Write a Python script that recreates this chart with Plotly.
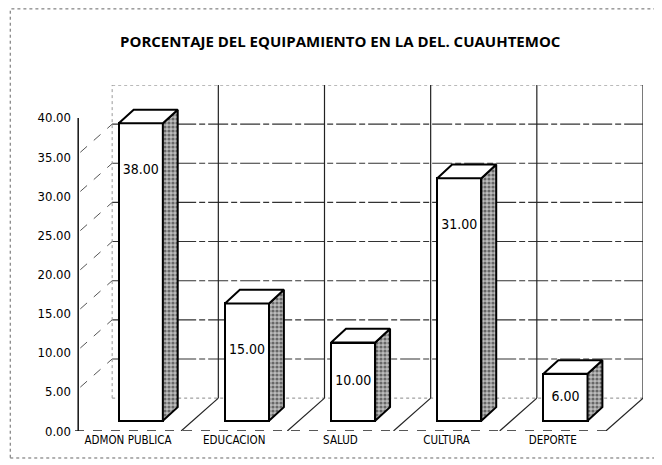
import plotly.graph_objects as go

# ---- data ----
categories = ["ADMON PUBLICA", "EDUCACION", "SALUD", "CULTURA", "DEPORTE"]
values = [38.00, 15.00, 10.00, 31.00, 6.00]
y_ticks = [0, 5, 10, 15, 20, 25, 30, 35, 40]
title_text = "PORCENTAJE DEL EQUIPAMIENTO EN LA DEL. CUAUHTEMOC"

# ---- 3D projection constants (data units) ----
WALL_DX, WALL_DY = 0.35, 4.2      # depth of back wall
FRONT_DX, FRONT_DY = 0.12, 1.3    # bar front face offset
BAR_DX, BAR_DY = 0.14, 1.75       # bar depth
BAR_W = 0.415
YMAX = max(y_ticks)
n = len(categories)
x0, x1 = -0.5, n - 0.5

FONT = "DejaVu Sans Condensed, DejaVu Sans, sans-serif"

shapes = []

def seg(xa, ya, xb, yb, color="#222", width=1, dash="solid"):
    shapes.append(dict(type="line", xref="x", yref="y", x0=xa, y0=ya, x1=xb, y1=yb,
                       layer="below", line=dict(color=color, width=width, dash=dash)))

# back wall horizontal grid lines
for t in y_ticks[1:-1]:
    seg(x0 + WALL_DX, t + WALL_DY, x1 + WALL_DX, t + WALL_DY, color="#333", width=1.1,
        dash="20px,3px,6px,3px")
# back wall top edge and bottom edge (dotted faint)
seg(x0 + WALL_DX, YMAX + WALL_DY, x1 + WALL_DX, YMAX + WALL_DY, color="#777", width=1, dash="dot")
seg(x0 + WALL_DX, WALL_DY, x1 + WALL_DX, WALL_DY, color="#888", width=1, dash="dot")
# back wall verticals at category boundaries
for k in range(n):
    seg(k + 0.5 + WALL_DX, WALL_DY, k + 0.5 + WALL_DX, YMAX + WALL_DY, color="#222", width=1.2)
# left back edge
seg(x0 + WALL_DX, WALL_DY, x0 + WALL_DX, YMAX + WALL_DY, color="#999", width=1, dash="dot")
# left wall diagonals
for t in y_ticks[1:-1]:
    seg(x0 + 0.05, t + 0.6, x0 + WALL_DX, t + WALL_DY, color="#555", width=1, dash="dash")
# floor front edge
seg(x0, 0, x1, 0, color="#222", width=1.3, dash="dash")
# floor diagonals
for k in range(n):
    seg(k + 0.5, 0, k + 0.5 + WALL_DX, WALL_DY, color="#222", width=1.2)
# y axis line
seg(x0 + 0.03, 0, x0 + 0.03, YMAX, color="#111", width=1.5)

# outer frame (scan border)
shapes.append(dict(type="rect", xref="paper", yref="paper", x0=-0.114, x1=1.026,
                   y0=-0.078, y1=1.22, layer="below",
                   line=dict(color="#666", width=1, dash="dot")))

fig = go.Figure()

# bars: front faces
xc = [i + FRONT_DX for i in range(n)]
fig.add_trace(go.Bar(
    x=xc, y=values, base=[FRONT_DY] * n, width=BAR_W,
    marker=dict(color="white", line=dict(color="black", width=2)),
    hoverinfo="skip", showlegend=False))

# side faces and top faces
sx, sy, tx, ty = [], [], [], []
for c, v in zip(xc, values):
    xl, xr = c - BAR_W / 2, c + BAR_W / 2
    b, top = FRONT_DY, FRONT_DY + v
    sx += [xr, xr + BAR_DX, xr + BAR_DX, xr, xr, None]
    sy += [b, b + BAR_DY, top + BAR_DY, top, b, None]
    tx += [xl, xl + BAR_DX, xr + BAR_DX, xr, xl, None]
    ty += [top, top + BAR_DY, top + BAR_DY, top, top, None]

fig.add_trace(go.Scatter(
    x=sx, y=sy, mode="lines", fill="toself", fillcolor="#8a8a8a",
    fillpattern=dict(shape=".", fgcolor="#111", bgcolor="#bcbcbc", size=4, solidity=0.5),
    line=dict(color="black", width=2), hoverinfo="skip", showlegend=False))
fig.add_trace(go.Scatter(
    x=tx, y=ty, mode="lines", fill="toself", fillcolor="white",
    line=dict(color="black", width=2), hoverinfo="skip", showlegend=False))

# value labels
label_y = [FRONT_DY + v - min(6.0, v / 2) for v in values]
fig.add_trace(go.Scatter(
    x=xc, y=label_y, mode="text", text=[f"{v:.2f}" for v in values],
    textfont=dict(family=FONT, size=14, color="black"),
    hoverinfo="skip", showlegend=False))

fig.update_layout(
    width=654, height=457,
    margin=dict(l=67, r=19, t=77, b=34),
    paper_bgcolor="white", plot_bgcolor="white",
    shapes=shapes,
    title=dict(text="<b>" + title_text + "</b>", x=0.508, xanchor="center",
               y=0.9256, yanchor="middle",
               font=dict(family="Open Sans, sans-serif", size=15, color="black")),
    xaxis=dict(range=[x0, x1 + WALL_DX], tickmode="array", tickvals=list(range(n)),
               ticktext=categories, showgrid=False, zeroline=False, showline=False,
               ticks="", tickfont=dict(family=FONT, size=11.5, color="black")),
    yaxis=dict(range=[0, YMAX + WALL_DY], tickmode="array", tickvals=y_ticks,
               ticktext=[f"{t:.2f}" for t in y_ticks], showgrid=False, zeroline=False,
               showline=False, ticks="", ticklabelstandoff=3,
               tickfont=dict(family=FONT, size=13, color="black")),
    bargap=0,
)

fig.write_html("out.html")
